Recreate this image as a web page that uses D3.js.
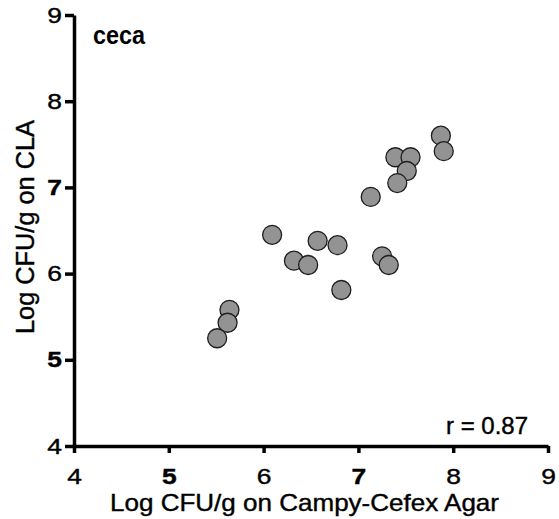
<!DOCTYPE html>
<html>
<head>
<style>
  body { margin: 0; background: #fff; }
  text { font-family: 'Liberation Sans', Arial, Helvetica, sans-serif; fill: #000; }
  .axis path, .axis line { stroke: #000; stroke-width: 3.5px; }
  .dot { fill: #939393; stroke: #1e1e1e; stroke-width: 1.3px; }
  .heavy { stroke: #000; stroke-width: 0.4px; }
</style>
</head>
<body>
<div id="chart"></div>
<script src="https://d3js.org/d3.v7.min.js"></script>
<script>
// Campy-Cefex (x) vs CLA (y), log CFU/g, ceca samples
var cefex = [7.87, 7.90, 7.39, 7.55, 7.51, 7.41, 7.13, 6.09, 6.57, 6.78, 6.32, 6.47, 7.25, 7.32, 6.82, 5.64, 5.62, 5.51];
var cla   = [7.60, 7.42, 7.35, 7.35, 7.19, 7.05, 6.89, 6.45, 6.38, 6.33, 6.15, 6.10, 6.20, 6.10, 5.81, 5.58, 5.43, 5.25];
var xTicks = [4, 5, 6, 7, 8, 9];
var yTicks = [4, 5, 6, 7, 8, 9];
var boldTicks = [5, 7]; // these print heavier in the figure
var panelLabel = "ceca";
var rLabel = "r = 0.87";
var xTitle = "Log CFU/g on Campy-Cefex Agar";
var yTitle = "Log CFU/g on CLA";

var W = 559, H = 519;
var margin = {top: 15, right: 11, bottom: 73, left: 74};
var width = W - margin.left - margin.right,
    height = H - margin.top - margin.bottom;

var svg = d3.select("#chart").append("svg")
    .attr("width", W)
    .attr("height", H);

var g = svg.append("g")
    .attr("transform", "translate(" + margin.left + "," + margin.top + ")");

var x = d3.scaleLinear().domain([4, 9]).range([0, width]);
var y = d3.scaleLinear().domain([4, 9]).range([height, 0]);

var stretch = 1.2; // the glyphs in the picture are wide
var tickFont = 22;

var gX = g.append("g")
    .attr("class", "x axis")
    .attr("transform", "translate(0," + height + ")")
    .call(d3.axisBottom(x).tickValues(xTicks).tickFormat(d3.format("d"))
      .tickSize(7).tickSizeOuter(0).tickPadding(15));
gX.selectAll("text")
    .attr("font-size", tickFont)
    .attr("class", "heavy")
    .attr("font-weight", function(d) { return boldTicks.indexOf(d) >= 0 ? "bold" : "normal"; })
    .attr("transform", "scale(" + stretch + ",1)");

var gY = g.append("g")
    .attr("class", "y axis")
    .call(d3.axisLeft(y).tickValues(yTicks).tickFormat(d3.format("d"))
      .tickSize(9).tickSizeOuter(0));
gY.selectAll("text")
    .attr("font-size", tickFont)
    .attr("class", "heavy")
    .attr("font-weight", function(d) { return boldTicks.indexOf(d) >= 0 ? "bold" : "normal"; })
    .attr("x", -12 / stretch)
    .attr("transform", "scale(" + stretch + ",1)");

// points
var pts = cefex.map(function(d, i) { return {x: d, y: cla[i]}; });
g.selectAll("circle.dot")
    .data(pts)
  .enter().append("circle")
    .attr("class", "dot")
    .attr("r", 9.5)
    .attr("cx", function(d) { return x(d.x); })
    .attr("cy", function(d) { return y(d.y); });

// labels
svg.append("text")
    .attr("x", 93).attr("y", 44)
    .attr("font-size", 25).attr("font-weight", "bold")
    .attr("textLength", 52).attr("lengthAdjust", "spacingAndGlyphs")
    .text(panelLabel);

svg.append("text")
    .attr("x", 528).attr("y", 434)
    .attr("class", "heavy")
    .attr("text-anchor", "end")
    .attr("font-size", 23)
    .attr("textLength", 82).attr("lengthAdjust", "spacingAndGlyphs")
    .text(rLabel);

svg.append("text")
    .attr("x", 110).attr("y", 511)
    .attr("class", "heavy")
    .attr("font-size", 24)
    .attr("textLength", 389).attr("lengthAdjust", "spacingAndGlyphs")
    .text(xTitle);

svg.append("text")
    .attr("transform", "translate(34,334) rotate(-90)")
    .attr("class", "heavy")
    .attr("font-size", 25)
    .attr("textLength", 214).attr("lengthAdjust", "spacingAndGlyphs")
    .text(yTitle);
</script>
</body>
</html>
